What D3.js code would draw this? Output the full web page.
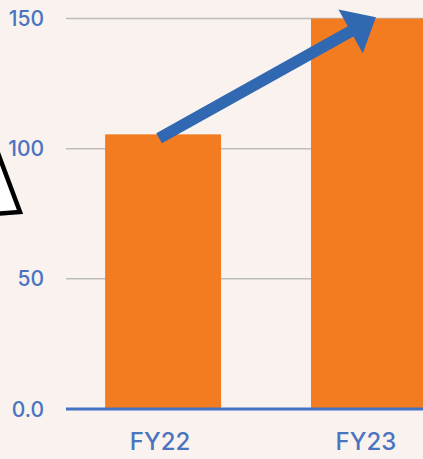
<!DOCTYPE html>
<html>
<head>
<meta charset="utf-8">
<script src="https://cdn.jsdelivr.net/npm/d3@7/dist/d3.min.js"></script>
<style>
html,body{margin:0;padding:0;background:#f9f2ef;}
svg{display:block;}
</style>
</head>
<body>
<svg id="chart" width="423" height="459"></svg>
<script>
const categories = ["FY22", "FY23"];
const values = [105.5, 150];
const yTickValues = [0, 50, 100, 150];
const yTickLabels = ["0.0", "50", "100", "150"];
const arrowFrom = {cat: "FY22", value: 104};
const arrowTo = {cat: "FY23", value: 150.5};

const svg = d3.select("#chart");
const W = 423, H = 459;
svg.append("rect").attr("width", W).attr("height", H).attr("fill", "#f9f2ef");

const x = d3.scaleBand().domain(categories).range([66, 466]).paddingInner(0.437).paddingOuter(0.19);
const y = d3.scaleLinear().domain([0, 150]).range([409, 18.5]);

const textColor = "#4a74c0";
const font = "Inter, 'Noto Sans', sans-serif";

// gridlines
svg.append("g").selectAll("line").data(yTickValues.filter(d => d > 0)).join("line")
  .attr("x1", 66).attr("x2", W)
  .attr("y1", d => y(d)).attr("y2", d => y(d))
  .attr("stroke", "#bdbdbd").attr("stroke-width", 1.5);

// y labels
svg.append("g").selectAll("text").data(yTickValues).join("text")
  .attr("x", 44).attr("y", d => y(d)).attr("dy", "0.36em")
  .attr("text-anchor", "end")
  .attr("fill", textColor).attr("font-family", font).attr("font-size", 21).attr("font-weight", 500)
  .text((d, i) => yTickLabels[i]);

// bars
svg.append("g").selectAll("rect").data(categories).join("rect")
  .attr("x", d => x(d)).attr("width", x.bandwidth())
  .attr("y", (d, i) => y(values[i])).attr("height", (d, i) => y(0) - y(values[i]))
  .attr("fill", "#f47c20");

// baseline
svg.append("line").attr("x1", 66).attr("x2", W).attr("y1", y(0)).attr("y2", y(0))
  .attr("stroke", "#4472c4").attr("stroke-width", 3);

// x labels
svg.append("g").selectAll("text").data(categories).join("text")
  .attr("x", d => x(d) + x.bandwidth() / 2 - 3).attr("y", 450)
  .attr("text-anchor", "middle")
  .attr("fill", textColor).attr("font-family", font).attr("font-size", 24).attr("font-weight", 500)
  .text(d => d);

// triangle decoration (partially off-canvas)
const tri = [[-20, 105], [20, 212], [-30, 216]];
svg.append("path").attr("d", d3.line()(tri) + "Z")
  .attr("fill", "#ffffff").attr("stroke", "#000").attr("stroke-width", 4.5).attr("stroke-linejoin", "miter");

// arrow
const x0 = x(arrowFrom.cat) + x.bandwidth() / 2 - 4, y0 = y(arrowFrom.value);
const x1 = x(arrowTo.cat) + x.bandwidth() / 2 + 7, y1 = y(arrowTo.value);
const dx = x1 - x0, dy = y1 - y0, L = Math.hypot(dx, dy);
const ux = dx / L, uy = dy / L, px = -uy, py = ux;
const sw = 5.8, hl = 29, hw = 25;
const bx = x1 - ux * hl, by = y1 - uy * hl;
const pts = [
  [x0 + px * sw, y0 + py * sw],
  [bx + px * sw, by + py * sw],
  [bx + px * hw, by + py * hw],
  [x1, y1],
  [bx - px * hw, by - py * hw],
  [bx - px * sw, by - py * sw],
  [x0 - px * sw, y0 - py * sw]
];
svg.append("path").attr("d", d3.line()(pts) + "Z").attr("fill", "#3068b2");
</script>
</body>
</html>
